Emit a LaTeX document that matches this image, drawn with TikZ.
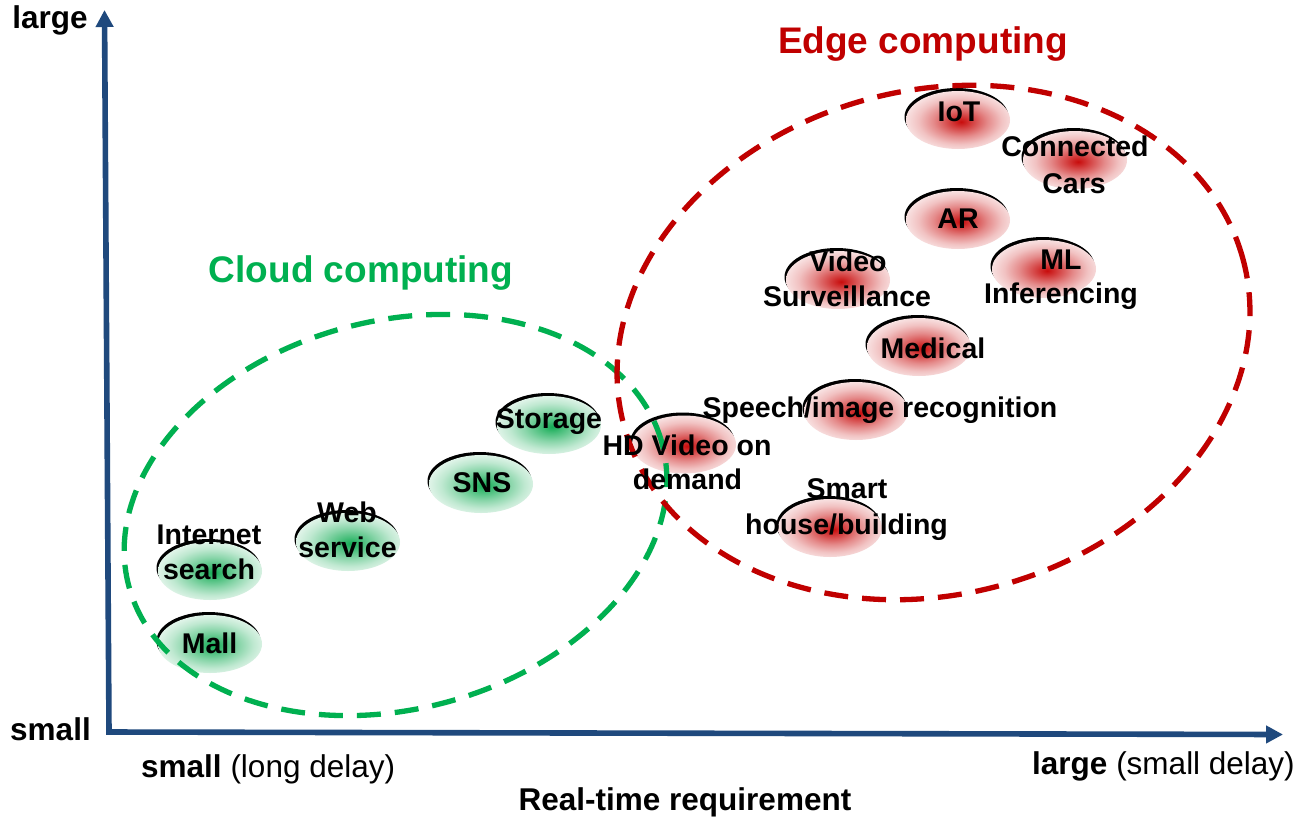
\documentclass[tikz,border=0pt]{standalone}
\usepackage{fontspec}
\setmainfont{Liberation Sans}
\usetikzlibrary{shapes.geometric,arrows.meta}
\definecolor{edgered}{RGB}{192,0,0}
\definecolor{cloudgreen}{RGB}{0,176,80}
\definecolor{axisblue}{RGB}{31,73,125}
\definecolor{rcore}{RGB}{200,12,12}
\definecolor{gcore}{RGB}{20,172,85}
\pgfdeclareradialshading{redglow}{\pgfpoint{1.5bp}{-1.5bp}}{color(0bp)=(rcore); color(5bp)=(rcore!80!white); color(13bp)=(rcore!48!white); color(20bp)=(rcore!25!white); color(26bp)=(rcore!12!white); color(50bp)=(white)}
\pgfdeclareradialshading{greenglow}{\pgfpoint{1.5bp}{-1.5bp}}{color(0bp)=(gcore); color(5bp)=(gcore!80!white); color(13bp)=(gcore!50!white); color(20bp)=(gcore!27!white); color(26bp)=(gcore!13!white); color(50bp)=(white)}
\newcommand\spot[4]{%
  \fill[black] (#2-1.5,#3-3) ellipse [x radius=52pt, y radius=29pt];
  \node[#4] (#1) at (#2,#3) {};
}
\tikzset{
  spotbase/.style={shape=ellipse, minimum width=104pt, minimum height=58pt, inner sep=0pt},
  redspot/.style={spotbase, shading=redglow},
  greenspot/.style={spotbase, shading=greenglow},
  lbl/.style={font=\fontsize{28.5}{34}\selectfont\bfseries, anchor=base, inner sep=0pt},
  axlbl/.style={font=\fontsize{31.5}{38}\selectfont, anchor=base, inner sep=0pt},
  title/.style={font=\fontsize{37}{44}\selectfont\bfseries, anchor=base, inner sep=0pt},
  zone/.style={shape=ellipse, inner sep=0pt, line width=5.3pt, dash pattern=on 24pt off 14pt, rotate=15},
  axis/.style={draw=axisblue, line width=5.6pt, line join=miter, {Triangle[length=17pt,width=17pt]}-{Triangle[length=17pt,width=17pt]}}
}
\begin{document}
\begin{tikzpicture}[x=1pt,y=-1pt]
\useasboundingbox[fill=white] (0,0) rectangle (1297,816);
% axes
\coordinate (ytip) at (104.5,10);
\coordinate (origin) at (109,732);
\coordinate (xtip) at (1283,734.5);
\draw[axis] (ytip) -- (origin) -- (xtip);
% spots
\spot{storage}{549}{425}{greenspot}
\spot{sns}{481}{484}{greenspot}
\spot{web}{348}{542}{greenspot}
\spot{search}{210}{571}{greenspot}
\spot{mall}{210}{644}{greenspot}
\spot{iot}{958}{120}{redspot}
\spot{cars}{1075}{160}{redspot}
\spot{ar}{958}{220}{redspot}
\spot{ml}{1044}{269}{redspot}
\spot{video}{838}{280}{redspot}
\spot{medical}{919}{347}{redspot}
\spot{speech}{856}{411}{redspot}
\spot{hd}{684}{444.5}{redspot}
\spot{smart}{830}{528}{redspot}
% zones
\node[zone, draw=cloudgreen, minimum width=552pt, minimum height=388pt] (cloud) at (395.5,515) {};
\node[zone, draw=edgered, minimum width=641pt, minimum height=504pt] (edge) at (933.5,342.5) {};
% titles
\node[title, text=edgered] (edgetitle) at (923,54) {Edge computing};
\node[title, text=cloudgreen] (cloudtitle) at (361,282) {Cloud computing};
% labels
\node[lbl] (l-storage) at (549,428) {Storage};
\node[lbl] (l-sns) at (482,492.5) {SNS};
\node[lbl] (l-web1) at (347,522.5) {Web};
\node[lbl] (l-web2) at (347.5,557) {service};
\node[lbl] (l-search1) at (209,544) {Internet};
\node[lbl] (l-search2) at (209,579) {search};
\node[lbl] (l-mall) at (209.5,653) {Mall};
\node[lbl] (l-iot) at (959,121) {IoT};
\node[lbl] (l-cars1) at (1075,156) {Connected};
\node[lbl] (l-cars2) at (1074,193) {Cars};
\node[lbl] (l-ar) at (958,228) {AR};
\node[lbl] (l-ml1) at (1061,269) {ML};
\node[lbl] (l-ml2) at (1061,303) {Inferencing};
\node[lbl] (l-video1) at (848,271.5) {Video};
\node[lbl] (l-video2) at (847,306) {Surveillance};
\node[lbl] (l-medical) at (933,358.5) {Medical};
\node[lbl] (l-speech) at (880,417.5) {Speech/image recognition};
\node[lbl] (l-hd1) at (687,455.5) {HD Video on};
\node[lbl] (l-hd2) at (687.5,489.5) {demand};
\node[lbl] (l-smart1) at (847,498) {Smart};
\node[lbl] (l-smart2) at (846.5,534.5) {house/building};
% axis labels
\node[axlbl, font=\fontsize{31.5}{38}\selectfont\bfseries] (ylarge) at (50,29) {large};
\node[axlbl, font=\fontsize{31.5}{38}\selectfont\bfseries] (ysmall) at (50.5,740) {small};
\node[axlbl, anchor=base west] (xsmall) at (141,777) {\textbf{small} (long delay)};
\node[axlbl, anchor=base west] (xlarge) at (1032,774) {\textbf{large} (small delay)};
\node[axlbl, font=\fontsize{31.5}{38}\selectfont\bfseries] (xtitle) at (685,810) {Real-time requirement};
\end{tikzpicture}
\end{document}
